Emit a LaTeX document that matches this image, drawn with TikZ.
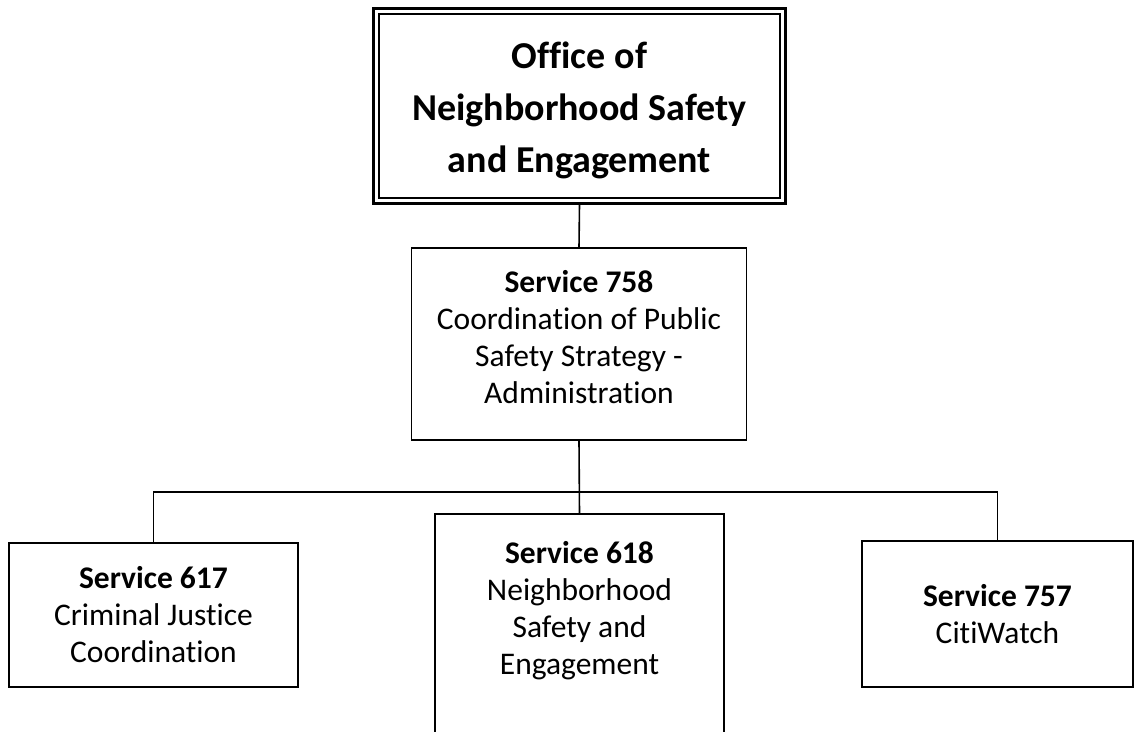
\documentclass[tikz,border=0pt]{standalone}
\usepackage{fontspec}
\setmainfont[Ligatures=NoCommon]{Carlito}
\begin{document}
\begin{tikzpicture}[x=1pt,y=-1pt,
  box/.style={draw=black, line width=1.6pt, rectangle, inner sep=0pt, align=center,
    font=\fontsize{31.5}{37}\selectfont},
  txt/.style={rectangle, inner sep=0pt, align=center, font=\fontsize{31.5}{37}\selectfont},
  title/.style={rectangle, inner sep=0pt, align=center, font=\fontsize{38}{52}\selectfont\bfseries},
  conn/.style={draw=black, line width=1.6pt}]
\useasboundingbox (0,0) rectangle (1143,731);
\clip (0,0) rectangle (1143,731);
% top box
\node[draw=black, line width=3pt, rectangle, inner sep=0pt, minimum width=412pt, minimum height=195pt] (top) at (579.5,105.5) {};
\draw[line width=2pt] ([shift={(7,7)}]top.north west) rectangle ([shift={(-7,-7)}]top.south east);
\node[title] (toptext) at ([yshift=-5pt]top.center) {Office of\\Neighborhood Safety\\and Engagement};
% level 2
\node[box, minimum width=335pt, minimum height=192pt] (s758) at (579,344) {};
\node[txt] (t758) at ([yshift=7pt]s758.center)
  {\textbf{Service 758}\\Coordination of Public\\Safety Strategy -\\Administration};
% level 3
\node[box, minimum width=289pt, minimum height=144pt] (s617) at (153.5,615)
  {\textbf{Service 617}\\Criminal Justice\\Coordination};
\node[box, draw=none, minimum width=287pt, minimum height=192pt] (s618) at (579.5,611)
  {\textbf{Service 618}\\Neighborhood\\Safety and\\Engagement};
\draw[conn] ([yshift=-60pt]s618.south west) -- (s618.north west) -- (s618.north east) -- ([yshift=-60pt]s618.south east);
\node[box, minimum width=271pt, minimum height=146pt] (s757) at (997.5,614)
  {\textbf{Service 757}\\CitiWatch};
% connectors
\coordinate (bus) at (579,492);
\draw[conn] (top.south) -- (s758.north);
\draw[conn] (s758.south) -- (s618.north);
\draw[conn] (s617.north) -- (s617.north |- bus) -- (s757.north |- bus) -- (s757.north);
\end{tikzpicture}
\end{document}
